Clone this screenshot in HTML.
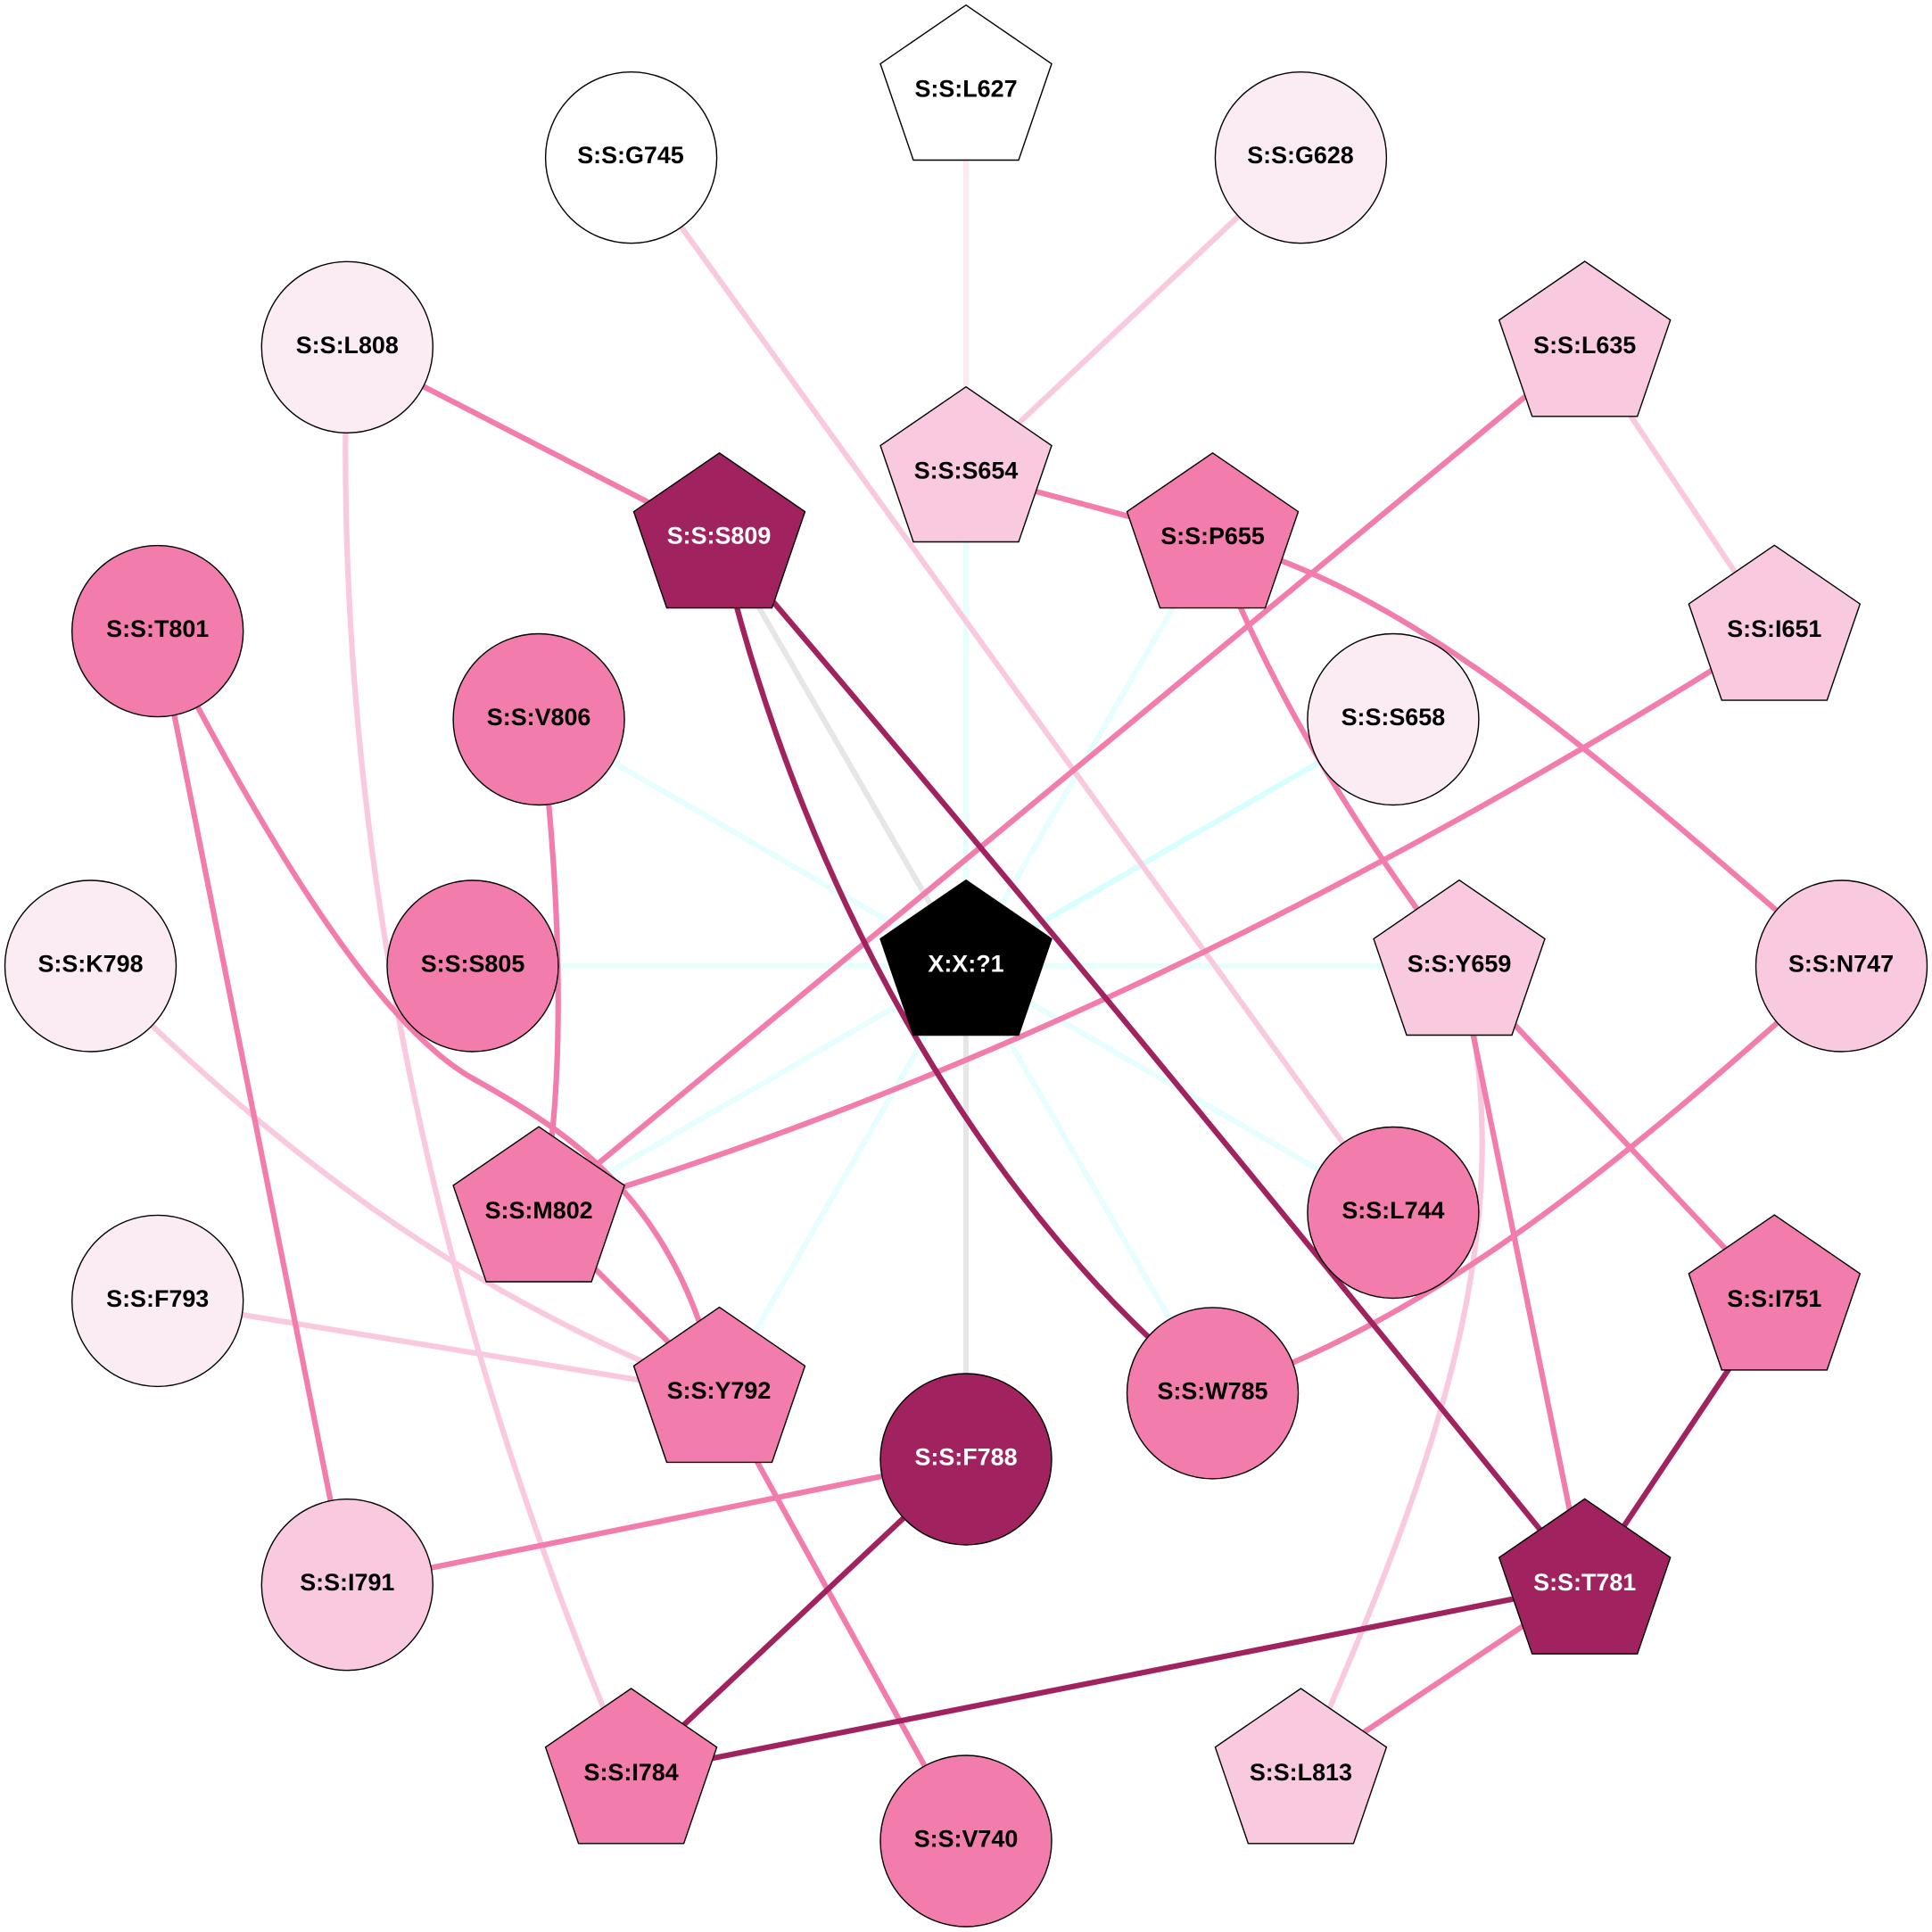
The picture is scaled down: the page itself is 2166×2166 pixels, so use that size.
<!DOCTYPE html>
<html><head><meta charset="utf-8"><style>
html,body{margin:0;padding:0;background:#fff}
svg{display:block}
text{font-family:"Liberation Sans",sans-serif;font-weight:bold;font-size:26.9px;text-anchor:middle}
.e{fill:none;stroke-width:6.2}
.c{stroke:#e6fefe}.g{stroke:#e6e6e6}.l{stroke:#f9c9df}.v{stroke:#fbecf4}.p{stroke:#f27cac}.d{stroke:#a0235f}
.n{stroke:#000;stroke-width:1.4}
</style></head><body>
<svg xmlns="http://www.w3.org/2000/svg" width="2166" height="2166" viewBox="0 0 2166 2166">
<rect width="2166" height="2166" fill="#fff"/>
<g class="e">
<!-- centre edges -->
<path class="c" d="M1083 1083L1083 530"/>
<path class="c" d="M1083 1083L1359.5 604.1"/>
<path class="e" stroke="#d8ffff" d="M1083 1083L1561.9 806.5"/>
<path class="c" d="M1083 1083L1636 1083"/>
<path class="c" d="M1083 1083L1561.9 1359.5"/>
<path class="c" d="M1083 1083L1359.5 1561.9"/>
<path class="c" d="M1083 1083L806.5 1561.9"/>
<path class="c" d="M1083 1083L604.1 1359.5"/>
<path class="c" d="M1083 1083L530 1083"/>
<path class="c" d="M1083 1083L604.1 806.5"/>
<path class="g" d="M1083 1083L806.5 604.1"/>
<path class="g" d="M1083 1083L1083 1636"/>
<!-- light edges -->
<path class="v" d="M1083 102L1083 530"/>
<path class="l" d="M1458.4 176.7L1083 530"/>
<path class="l" d="M707.6 176.7L1561.9 1359.5"/>
<path class="l" d="M1776.7 389.3L1989.3 707.6"/>
<path class="l" d="M176.7 1458.4L806.5 1561.9"/>
<path class="l" d="M389.3 389.3C371 921 480 1457 707.6 1989.3"/>
<path class="l" d="M102 1083C348.5 1331.7 563 1468.5 806.5 1561.9"/>
<path class="l" d="M1636 1083C1717.7 1385 1590 1687 1458.4 1989.3"/>
<!-- pink edges -->
<path class="p" d="M389.3 389.3L806.5 604.1"/>
<path class="p" d="M1083 530L1359.5 604.1"/>
<path class="p" d="M1776.7 389.3L604.1 1359.5"/>
<path class="p" d="M1989.3 707.6C1527 1000.8 1065.6 1224.6 604.1 1359.5"/>
<path class="p" d="M1359.5 604.1C1418 762 1512.5 921 1636 1083"/>
<path class="p" d="M1359.5 604.1C1594 661.5 1831 884 2064 1083"/>
<path class="p" d="M176.7 707.6C246.6 840.7 398 1133.8 529 1208.5C639 1270 760 1345 806.5 1561.9"/>
<path class="p" d="M176.7 707.6L389.3 1776.7"/>
<path class="p" d="M604.1 806.5C625 950 640 1220 604.1 1359.5"/>
<path class="p" d="M604.1 1359.5L806.5 1561.9"/>
<path class="p" d="M806.5 1561.9L1083 2064"/>
<path class="p" d="M2064 1083C1823.5 1299 1609 1480 1359.5 1561.9"/>
<path class="p" d="M1636 1083L1989.3 1458.4"/>
<path class="p" d="M1636 1083L1776.7 1776.7"/>
<path class="p" d="M1083 1636L389.3 1776.7"/>
<path class="p" d="M1776.7 1776.7L1458.4 1989.3"/>
<!-- dark edges -->
<path class="d" d="M806.5 604.1C906 1028 1122 1372 1359.5 1561.9"/>
<path class="d" d="M806.5 604.1C1135 987 1443 1365 1776.7 1776.7"/>
<path class="d" d="M1989.3 1458.4L1776.7 1776.7"/>
<path class="d" d="M1083 1636L707.6 1989.3"/>
<path class="d" d="M1776.7 1776.7L707.6 1989.3"/>
</g>

<g class="n">
<polygon transform="translate(1083 102)" fill="#ffffff" points="0,-96.3 96,-30.5 59,77.5 -59,77.5 -96,-30.5"/>
<circle cx="1458.4" cy="176.7" r="96" fill="#fbecf4"/>
<polygon transform="translate(1776.7 389.3)" fill="#f9c9df" points="0,-96.3 96,-30.5 59,77.5 -59,77.5 -96,-30.5"/>
<polygon transform="translate(1989.3 707.6)" fill="#f9c9df" points="0,-96.3 96,-30.5 59,77.5 -59,77.5 -96,-30.5"/>
<circle cx="2064.5" cy="1083" r="96" fill="#f9c9df"/>
<polygon transform="translate(1989.3 1458.4)" fill="#f27cac" points="0,-96.3 96,-30.5 59,77.5 -59,77.5 -96,-30.5"/>
<polygon transform="translate(1776.7 1776.7)" fill="#a0235f" points="0,-96.3 96,-30.5 59,77.5 -59,77.5 -96,-30.5"/>
<polygon transform="translate(1458.4 1989.3)" fill="#f9c9df" points="0,-96.3 96,-30.5 59,77.5 -59,77.5 -96,-30.5"/>
<circle cx="1083" cy="2064" r="96" fill="#f27cac"/>
<polygon transform="translate(707.6 1989.3)" fill="#f27cac" points="0,-96.3 96,-30.5 59,77.5 -59,77.5 -96,-30.5"/>
<circle cx="389.3" cy="1776.7" r="96" fill="#f9c9df"/>
<circle cx="176.7" cy="1458.4" r="96" fill="#fbecf4"/>
<circle cx="101.5" cy="1083" r="96" fill="#fbecf4"/>
<circle cx="176.7" cy="707.6" r="96" fill="#f27cac"/>
<circle cx="389.3" cy="389.3" r="96" fill="#fbecf4"/>
<circle cx="707.6" cy="176.7" r="96" fill="#ffffff"/>

<polygon transform="translate(1083 530)" fill="#f9c9df" points="0,-96.3 96,-30.5 59,77.5 -59,77.5 -96,-30.5"/>
<polygon transform="translate(1359.5 604.1)" fill="#f27cac" points="0,-96.3 96,-30.5 59,77.5 -59,77.5 -96,-30.5"/>
<circle cx="1561.9" cy="806.5" r="96" fill="#fbecf4"/>
<polygon transform="translate(1636 1083)" fill="#f9c9df" points="0,-96.3 96,-30.5 59,77.5 -59,77.5 -96,-30.5"/>
<circle cx="1561.9" cy="1359.5" r="96" fill="#f27cac"/>
<circle cx="1359.5" cy="1561.9" r="96" fill="#f27cac"/>
<circle cx="1083" cy="1636" r="96" fill="#a0235f"/>
<polygon transform="translate(806.5 1561.9)" fill="#f27cac" points="0,-96.3 96,-30.5 59,77.5 -59,77.5 -96,-30.5"/>
<polygon transform="translate(604.1 1359.5)" fill="#f27cac" points="0,-96.3 96,-30.5 59,77.5 -59,77.5 -96,-30.5"/>
<circle cx="530" cy="1083" r="96" fill="#f27cac"/>
<circle cx="604.1" cy="806.5" r="96" fill="#f27cac"/>
<polygon transform="translate(806.5 604.1)" fill="#a0235f" points="0,-96.3 96,-30.5 59,77.5 -59,77.5 -96,-30.5"/>
<polygon transform="translate(1083 1083)" fill="#000000" points="0,-96.3 96,-30.5 59,77.5 -59,77.5 -96,-30.5"/>
</g>

<g fill="#000">
<text x="1083" y="108.5">S:S:L627</text>
<text x="1458" y="183.2">S:S:G628</text>
<text x="1776.7" y="395.8">S:S:L635</text>
<text x="1989.3" y="714.1">S:S:I651</text>
<text x="2064" y="1089.5">S:S:N747</text>
<text x="1989.3" y="1464.9">S:S:I751</text>
<text x="1458.4" y="1995.8">S:S:L813</text>
<text x="1083" y="2070.5">S:S:V740</text>
<text x="707.6" y="1995.8">S:S:I784</text>
<text x="389.3" y="1783.2">S:S:I791</text>
<text x="176.7" y="1464.9">S:S:F793</text>
<text x="101.5" y="1089.5">S:S:K798</text>
<text x="176.7" y="714.1">S:S:T801</text>
<text x="389.3" y="395.8">S:S:L808</text>
<text x="707" y="183.2">S:S:G745</text>
<text x="1083" y="536.5">S:S:S654</text>
<text x="1359.5" y="610">S:S:P655</text>
<text x="1561.9" y="813">S:S:S658</text>
<text x="1636" y="1089.5">S:S:Y659</text>
<text x="1561.9" y="1366">S:S:L744</text>
<text x="1359.5" y="1568.4">S:S:W785</text>
<text x="806" y="1568">S:S:Y792</text>
<text x="604.1" y="1366">S:S:M802</text>
<text x="530" y="1089.5">S:S:S805</text>
<text x="604.1" y="813">S:S:V806</text>
</g>
<g fill="#fff">
<text x="1776.7" y="1783.2">S:S:T781</text>
<text x="1083" y="1642.5">S:S:F788</text>
<text x="806" y="609.6">S:S:S809</text>
<text x="1083" y="1089.5">X:X:?1</text>
</g>
</svg>
</body></html>
